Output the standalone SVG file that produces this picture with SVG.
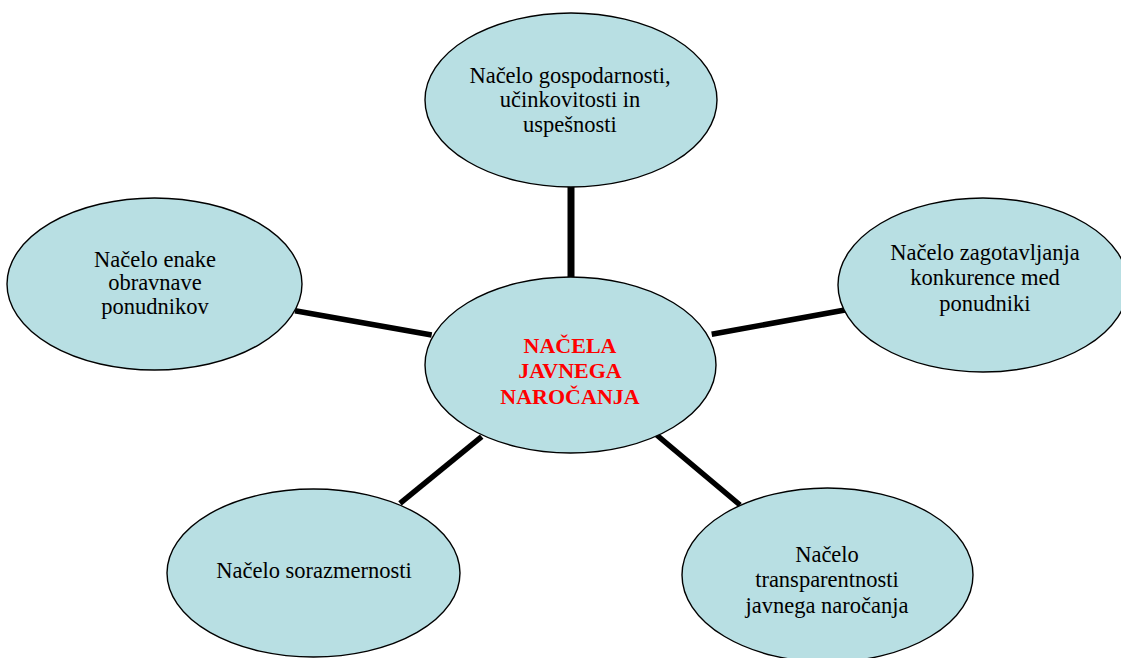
<svg xmlns="http://www.w3.org/2000/svg" width="1121" height="658" viewBox="0 0 1121 658">
<style>
.node ellipse{fill:#b8dfe3;stroke:#000;stroke-width:1.4}
.lbl{font-family:"Liberation Serif","Times New Roman",serif;font-size:22.5px;fill:#000;text-anchor:middle}
.ctr{font-family:"Liberation Serif","Times New Roman",serif;font-size:22px;font-weight:bold;fill:#ff0000;text-anchor:middle}
.con line{stroke:#000;stroke-width:5.5;stroke-linecap:butt}
</style>
<rect width="1121" height="658" fill="#fff"/>
<g id="connectors" class="con">
<line x1="571" y1="186" x2="571" y2="279" style="stroke-width:7"/>
<line x1="295" y1="310.7" x2="431.7" y2="335"/>
<line x1="711.7" y1="334.3" x2="845" y2="310"/>
<line x1="400" y1="503.3" x2="481.7" y2="436.7"/>
<line x1="656.7" y1="435" x2="740" y2="505"/>
</g>
<g id="top" class="node">
<ellipse cx="571" cy="100" rx="146" ry="87"/>
<text class="lbl" x="570" y="83">Načelo gospodarnosti,</text>
<text class="lbl" x="570" y="107">učinkovitosti in</text>
<text class="lbl" x="570" y="132">uspešnosti</text>
</g>
<g id="left" class="node">
<ellipse cx="154.5" cy="284" rx="147.5" ry="86"/>
<text class="lbl" x="155" y="267">Načelo enake</text>
<text class="lbl" x="155" y="290">obravnave</text>
<text class="lbl" x="155" y="314">ponudnikov</text>
</g>
<g id="right" class="node">
<ellipse cx="983" cy="285" rx="145" ry="87"/>
<text class="lbl" x="985" y="260">Načelo zagotavljanja</text>
<text class="lbl" x="985" y="285">konkurence med</text>
<text class="lbl" x="985" y="311">ponudniki</text>
</g>
<g id="center" class="node">
<ellipse cx="570.5" cy="365" rx="145.5" ry="88"/>
<text class="ctr" x="570" y="353">NAČELA</text>
<text class="ctr" x="570" y="378">JAVNEGA</text>
<text class="ctr" x="570" y="404">NAROČANJA</text>
</g>
<g id="bottom-left" class="node">
<ellipse cx="313.5" cy="573" rx="146.5" ry="84"/>
<text class="lbl" x="314" y="578">Načelo sorazmernosti</text>
</g>
<g id="bottom-right" class="node">
<ellipse cx="827.5" cy="575" rx="145.5" ry="87"/>
<text class="lbl" x="827" y="562">Načelo</text>
<text class="lbl" x="827" y="587">transparentnosti</text>
<text class="lbl" x="827" y="613">javnega naročanja</text>
</g>
</svg>
